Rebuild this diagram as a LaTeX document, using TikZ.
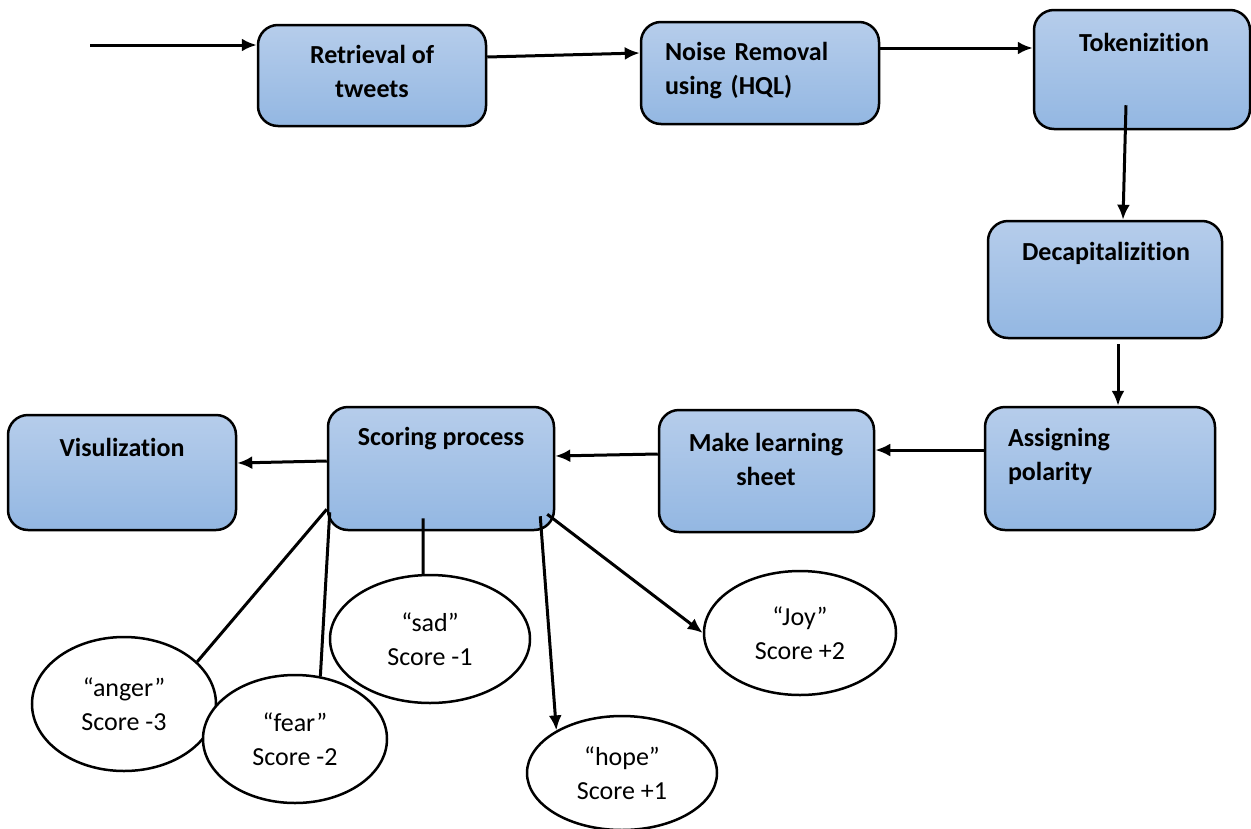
\documentclass[tikz,border=0pt]{standalone}
\usepackage{fontspec}
\setmainfont{Carlito}[Ligatures={NoCommon}]
\usetikzlibrary{positioning}
\usetikzlibrary{shapes.geometric,arrows.meta}

\definecolor{boxtop}{HTML}{B6CDEB}
\definecolor{boxbot}{HTML}{93B7E2}
\newcommand{\diagfont}{\fontsize{26}{34}\selectfont}

\tikzset{
  stage/.style={draw, line width=2.5pt, rounded corners=20pt,
    top color=boxtop, bottom color=boxbot, inner sep=0pt},
  caption/.style={font=\diagfont\bfseries, align=center, inner sep=0pt},
  emotion/.style={ellipse, draw, line width=2.5pt, fill=white,
    font=\diagfont, align=center, inner sep=0pt},
  flow/.style={line width=3pt, -{Latex[length=15pt,width=13pt]}},
  link/.style={line width=3pt}
}

\begin{document}
\begin{tikzpicture}[x=1pt,y=-1pt]
      \useasboundingbox (0,0) rectangle (1251,828);
      % \draw[help lines] (0,0) grid (1251,828);

      % boxes
      \node[stage, minimum width=228pt, minimum height=101pt] (ret)    at (372,75.5)  {};
      \node[stage, minimum width=238pt, minimum height=102pt] (noise)  at (760,73)    {};
      \node[stage, minimum width=216pt, minimum height=119pt] (tok)    at (1142,69.5) {};
      \node[stage, minimum width=234pt, minimum height=117pt] (decap)  at (1105,279.5) {};
      \node[stage, minimum width=230pt, minimum height=123pt] (assign) at (1100,468.5) {};
      \node[stage, minimum width=215pt, minimum height=122pt] (learn)  at (766.5,471) {};
      \node[stage, minimum width=226pt, minimum height=123pt] (score)  at (441,468.5) {};
      \node[stage, minimum width=228pt, minimum height=115pt] (vis)    at (122,472.5) {};

      % box texts
      \node[caption] (ret-t)    at (372,71)   {Retrieval of\\tweets};
      \node[caption, text width=190pt, align=left] (noise-t) at (760,70.5) {Noise Removal\\using (HQL)};
      \node[caption] (tok-t)    at (1144,42)  {Tokenizition};
      \node[caption] (decap-t)  at (1106,253) {Decapitalizition};
      \node[caption, text width=184pt, align=left] (assign-t) at (1100,456) {Assigning\\polarity};
      \node[caption] (learn-t)  at (766,459.5) {Make learning\\sheet};
      \node[caption] (score-t)  at (441,439)  {Scoring process};
      \node[caption] (vis-t)    at (122,447)  {Visulization};

      % scores
      \node[emotion, minimum width=184pt, minimum height=134pt] (anger) at (124,704) {“anger”\\Score -3};
      \node[emotion, minimum width=184pt, minimum height=128pt] (fear)  at (295,739) {“fear”\\Score -2};
      \node[emotion, minimum width=200pt, minimum height=128pt] (sad)   at (430,639) {“sad”\\Score -1};
      \node[emotion, minimum width=190pt, minimum height=114pt] (hope)  at (622,773) {“hope”\\Score +1};
      \node[emotion, minimum width=192pt, minimum height=124pt] (joy)   at (800,633) {“Joy”\\Score +2};

      \coordinate (in) at (90,45);

      \draw[flow] (in) -- (ret.west |- in);
      \draw[flow] ([yshift=18.5pt]ret.east) -- ([yshift=20pt]noise.west);
      \draw[flow] ([yshift=25pt]noise.east) -- ([yshift=21.5pt]tok.west);
      \draw[flow] ([xshift=-16pt,yshift=25pt]tok.south) -- ([xshift=18pt]decap.north);
      \draw[flow] ([xshift=13pt,yshift=-5pt]decap.south) -- ([xshift=18pt]assign.north);
      \draw[flow] ([yshift=18.5pt]assign.west) -- ([yshift=21pt]learn.east);
      \draw[flow] ([yshift=17pt]learn.west) -- ([yshift=12.5pt]score.east);
      \draw[flow] ([yshift=7.5pt]score.west) -- ([yshift=9.5pt]vis.east);

      \draw[link] ([yshift=22pt]score.south west) -- (anger.30);
      \draw[link] ([xshift=3pt,yshift=19pt]score.south west) -- (fear.68);
      \draw[link] ([xshift=-18pt,yshift=13pt]score.south) -- (sad.96);
      \draw[flow] ([xshift=-15pt,yshift=15pt]score.south east) -- (hope.147);
      \draw[flow] ([xshift=-8pt,yshift=17pt]score.south east) -- (joy.west);
\end{tikzpicture}
\end{document}
